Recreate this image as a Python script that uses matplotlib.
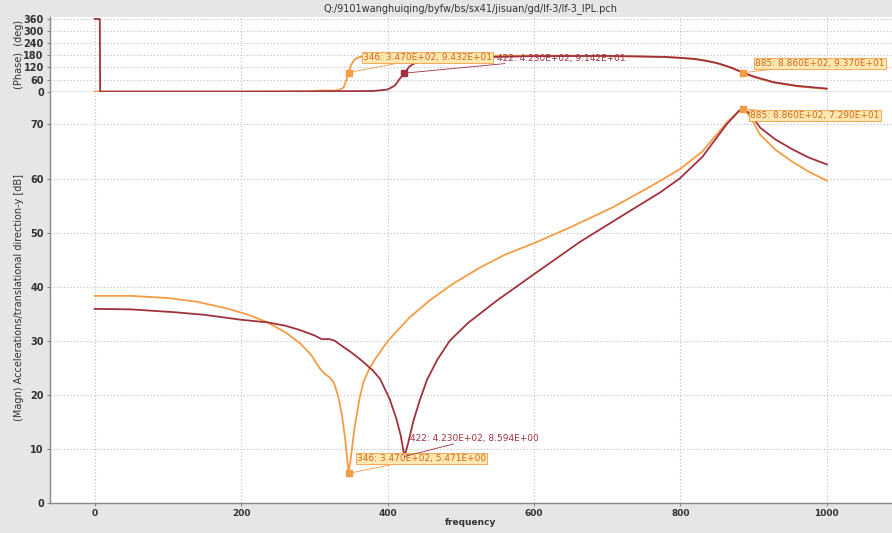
import matplotlib
matplotlib.use("Agg")
import matplotlib.pyplot as plt

# ---------------- data ----------------
title = "Q:/9101wanghuiqing/byfw/bs/sx41/jisuan/gd/lf-3/lf-3_IPL.pch"

# magnitude, light (orange) series
mag_o_f = [0, 50, 100, 140, 180, 210, 236, 260, 280, 295, 308, 315, 321, 327, 333, 338, 342, 345, 347,
           350, 355, 362, 367, 375, 383, 400, 430, 458, 490, 526, 560, 601, 650, 708, 760, 799, 830, 863, 880,
           886, 895, 909, 930, 953, 975, 1000]
mag_o_db = [38.3, 38.3, 37.9, 37.2, 36.0, 34.8, 33.4, 31.6, 29.6, 27.5, 24.8, 23.8, 23.2, 22.2, 19.5, 16.0, 12.0, 8.0, 5.5,
            8.5, 14.0, 19.5, 22.3, 24.8, 26.6, 29.9, 34.3, 37.5, 40.6, 43.5, 45.9, 48.1, 51.0, 54.7, 58.6, 61.7, 65.0, 70.3, 72.5,
            72.9, 71.5, 68.1, 65.3, 63.1, 61.3, 59.6]

# magnitude, dark (maroon) series
mag_d_f = [0, 50, 107, 150, 199, 236, 260, 280, 300, 310, 321, 328, 335, 350, 365, 380, 390, 403, 412, 418, 423,
           428, 435, 444, 454, 468, 485, 510, 549, 601, 663, 731, 772, 799, 830, 863, 880, 886, 895, 909, 930, 953, 975, 1000]
mag_d_db = [35.9, 35.8, 35.3, 34.8, 33.9, 33.4, 32.8, 32.0, 31.0, 30.3, 30.3, 30.0, 29.3, 27.9, 26.3, 24.5, 22.9, 19.2, 15.6, 12.5, 8.6,
            11.0, 15.0, 19.0, 22.8, 26.5, 30.0, 33.3, 37.4, 42.4, 48.3, 54.0, 57.4, 60.0, 64.0, 70.0, 72.5, 72.9, 72.0, 69.4, 67.2, 65.4, 63.9, 62.6]

# phase, light (orange) series
ph_o_f = [0, 100, 200, 290, 305, 318, 330, 335, 340, 344, 347, 350, 355, 362, 380, 450, 550, 650, 750, 800, 835, 860,
          875, 886, 900, 927, 960, 1000]
ph_o_deg = [0, 0, 0, 1, 5, 6, 5, 10, 20, 60, 95, 130, 160, 172, 176, 177, 178, 178, 174, 168, 155, 130,
            110, 93, 72, 45, 26, 13]

# phase, dark (maroon) series
ph_d_f = [0, 7, 7.5, 100, 200, 300, 380, 400, 410, 417, 423, 430, 437, 445, 470, 520, 600, 700, 780, 820, 850, 870,
          886, 900, 927, 960, 1000]
ph_d_deg = [360, 360, 0, 0, 0, 1, 3, 10, 30, 65, 91, 125, 140, 148, 160, 170, 176, 177, 172, 162, 142, 118,
            93, 75, 47, 28, 15]

# peak / marker annotations
mag_marks = [(347, 5.471, "346: 3.470E+02, 5.471E+00", "o"),
             (423, 8.594, "422: 4.230E+02, 8.594E+00", "d"),
             (886, 72.9, "885: 8.860E+02, 7.290E+01", "o")]
ph_marks = [(347, 94.3, "346: 3.470E+02, 9.432E+01", "o"),
            (423, 91.4, "422: 4.230E+02, 9.142E+01", "d"),
            (886, 93.7, "885: 8.860E+02, 9.370E+01", "o")]

xticks = [0, 200, 400, 600, 800, 1000]
mag_yticks = [0, 10, 20, 30, 40, 50, 60, 70]
ph_yticks = [0, 60, 120, 180, 240, 300, 360]

# ---------------- style ----------------
ORANGE = "#f59c45"
DARK = "#a0323e"
BG = "#e6e6e6"
GRID = "#bdbdbd"
SPINE = "#8a8a8a"
TXT = "#333333"

plt.rcParams["font.family"] = ["DejaVu Sans"]

W, H = 892, 533
fig = plt.figure(figsize=(W / 100, H / 100), dpi=100, facecolor=BG)

def frac(x0, y0, x1, y1):
    return [x0 / W, 1 - y1 / H, (x1 - x0) / W, (y1 - y0) / H]

ax_p = fig.add_axes(frac(50, 17, 892, 92))
ax_m = fig.add_axes(frac(50, 92, 892, 503), sharex=ax_p)

XLIM = (-61, 1089)

for ax in (ax_p, ax_m):
    ax.set_facecolor("white")
    ax.grid(True, linestyle=(0, (1, 2)), color=GRID, linewidth=0.8)
    ax.set_axisbelow(True)
    for s in ("top", "right"):
        ax.spines[s].set_visible(False)
    for s in ("left", "bottom"):
        ax.spines[s].set_color(SPINE)
        ax.spines[s].set_linewidth(1.0)
    ax.tick_params(colors=SPINE, labelcolor=TXT, labelsize=7, length=2.5, width=0.8, pad=2)

# phase axes
ax_p.plot(ph_o_f, ph_o_deg, color=ORANGE, lw=1.3, zorder=3)
ax_p.plot(ph_d_f, ph_d_deg, color=DARK, lw=1.3, zorder=4)
ax_p.set_xlim(*XLIM)
ax_p.set_ylim(-2, 370)
ax_p.set_yticks(ph_yticks)
ax_p.set_yticklabels([str(v) for v in ph_yticks], fontweight="bold", fontsize=7)
ax_p.tick_params(axis="x", labelbottom=False, length=0)
ax_p.set_ylabel("(Phase)  (deg)", fontsize=7, color=TXT)
ax_p.yaxis.set_label_coords(-0.031, 0.5)
ax_p.set_title(title, fontsize=7, color=TXT, pad=4)

# magnitude axes
ax_m.plot(mag_o_f, mag_o_db, color=ORANGE, lw=1.3, zorder=3)
ax_m.plot(mag_d_f, mag_d_db, color=DARK, lw=1.3, zorder=4)
ax_m.set_xlim(*XLIM)
ax_m.set_ylim(0, 76)
ax_m.set_yticks(mag_yticks)
ax_m.set_yticklabels([str(v) for v in mag_yticks], fontweight="bold", fontsize=7)
ax_m.set_xticks(xticks)
ax_m.set_xticklabels([str(v) for v in xticks], fontweight="bold", fontsize=6.5)
ax_m.tick_params(axis="x", pad=1.5)
ax_m.set_xlabel("frequency", fontsize=6.5, fontweight="bold", color=TXT, labelpad=0)
ax_m.set_ylabel("(Magn) Accelerations/translational direction-y [dB]", fontsize=7, color=TXT)
ax_m.yaxis.set_label_coords(-0.031, 0.5)

def annotate(ax, marks, offsets):
    for (fx, fy, txt, kind), (dx, dy) in zip(marks, offsets):
        col = ORANGE if kind == "o" else DARK
        ax.plot([fx], [fy], marker="s", ms=4, color=col, zorder=6)
        if kind == "o":
            bbox = dict(boxstyle="square,pad=0.1", fc="#ffe7b0", ec=ORANGE, lw=0.6)
            tcol = "#d2691e"
        else:
            bbox = dict(boxstyle="square,pad=0.1", fc="white", ec="none", alpha=0.0)
            tcol = DARK
        ax.annotate(txt, xy=(fx, fy), xytext=(dx, dy), textcoords="offset pixels",
                    fontsize=6.5, color=tcol, va="center", ha="left", bbox=bbox,
                    arrowprops=dict(arrowstyle="-", color=col, lw=0.6,
                                    shrinkA=0, shrinkB=0), zorder=7)

annotate(ax_m, mag_marks, [(8, 15), (6, 18), (7, -7)])
annotate(ax_p, ph_marks, [(14, 15), (93, 15), (12, 9)])

fig.savefig("out.png", dpi=100, facecolor=BG)
